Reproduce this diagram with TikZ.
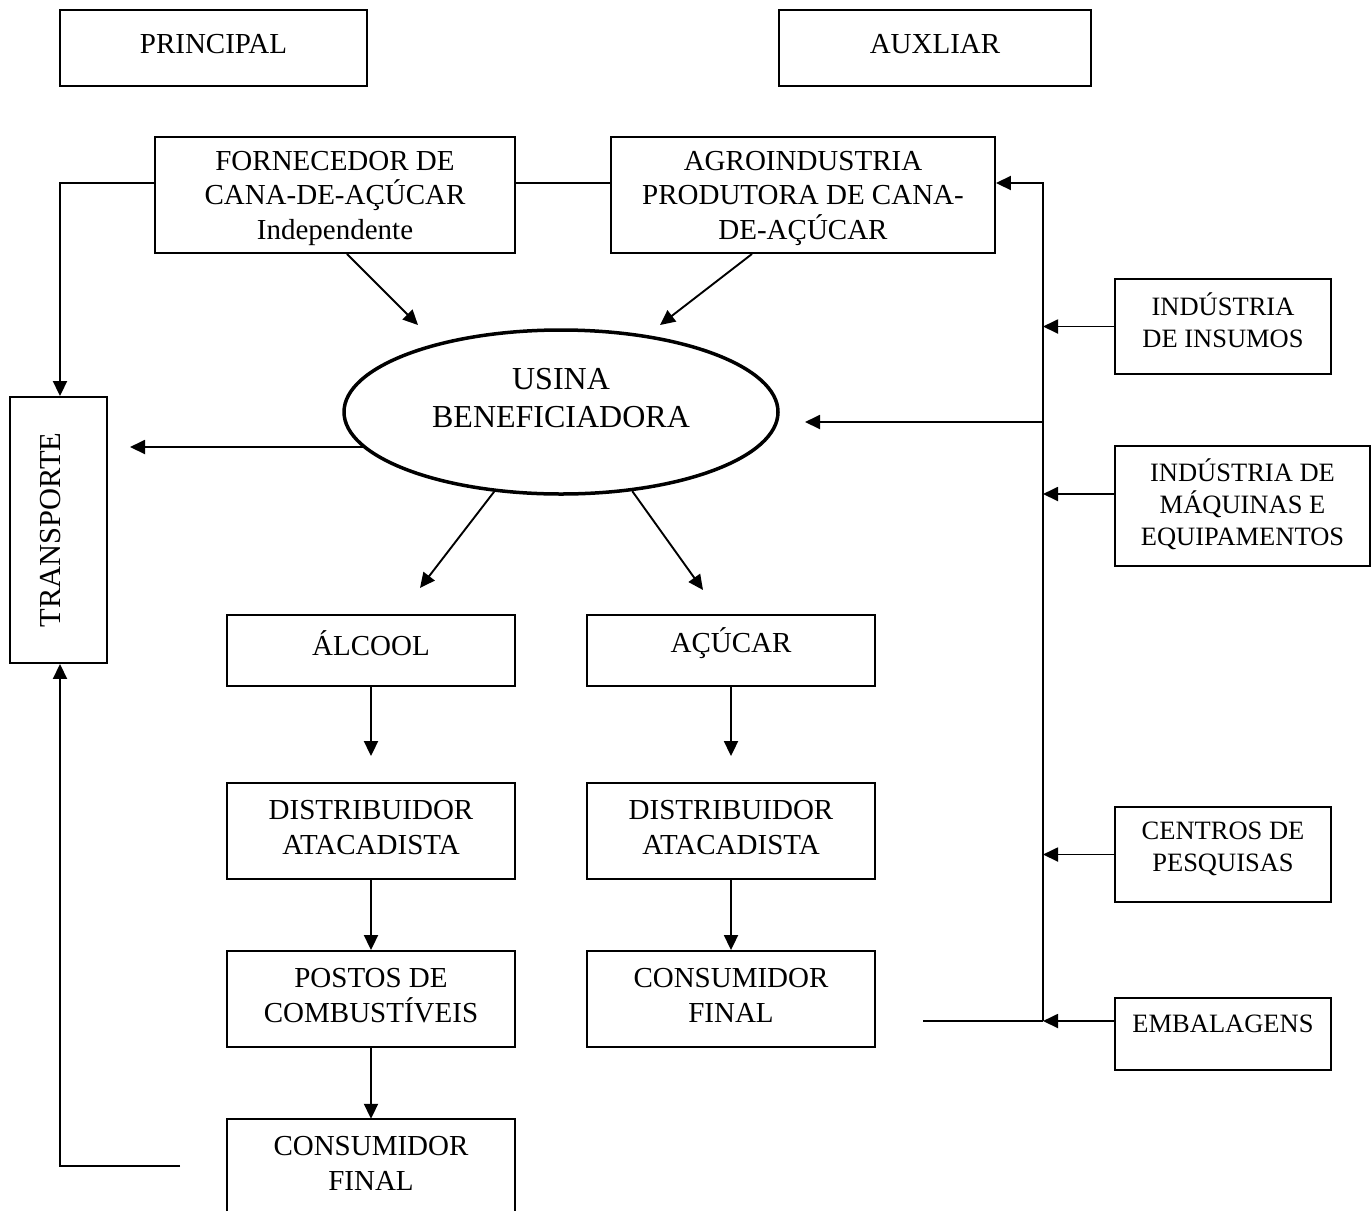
\documentclass[tikz,border=0pt]{standalone}
\usepackage{fontspec}
\setmainfont{Liberation Serif}
\usetikzlibrary{arrows.meta,shapes.geometric}
\begin{document}
\begin{tikzpicture}[x=1pt,y=-1pt,
  every node/.style={font=\fontsize{29}{34.5}\selectfont},
  box/.style={draw, line width=1.9pt, inner sep=0pt},
  txt/.style={align=center, inner sep=0pt},
  rtxt/.style={txt, font=\fontsize{26.5}{32}\selectfont},
  arr/.style={line width=1.9pt, -{Triangle[length=15pt,width=14pt]}},
  ln/.style={line width=1.9pt}]
\useasboundingbox (0,0) rectangle (1372,1211);

% header boxes
\node[box, minimum width=307pt, minimum height=76pt,
  label={[txt,yshift=4pt]center:PRINCIPAL}] (princ) at (213.5,48) {};
\node[box, minimum width=312pt, minimum height=76pt,
  label={[txt,yshift=4pt]center:AUXLIAR}] (aux) at (935,48) {};

% suppliers
\node[box, minimum width=360pt, minimum height=116pt,
  label={[txt,yshift=-3pt]center:{FORNECEDOR DE\\CANA-DE-AÇÚCAR\\Independente}}] (forn) at (335,195) {};
\node[box, minimum width=384pt, minimum height=116pt,
  label={[txt,yshift=-3pt]center:{AGROINDUSTRIA\\PRODUTORA DE CANA-\\DE-AÇÚCAR}}] (agro) at (803,195) {};

% transport
\node[box, minimum width=97pt, minimum height=266pt,
  label={[txt,font=\fontsize{30.5}{36}\selectfont,xshift=-8pt,rotate=90]center:TRANSPORTE}] (trans) at (58.5,530) {};

% usina
\node[draw, ellipse, line width=3.5pt, inner sep=0pt, minimum width=434pt, minimum height=164pt,
  label={[txt,font=\fontsize{32}{38}\selectfont,yshift=14pt]center:{USINA\\BENEFICIADORA}}] (usina) at (561,412) {};

% products
\node[box, minimum width=288pt, minimum height=71pt,
  label={[txt,yshift=7pt]center:ÁLCOOL}] (alc) at (371,650.5) {};
\node[box, minimum width=288pt, minimum height=71pt,
  label={[txt,yshift=7pt]center:AÇÚCAR}] (acu) at (731,650.5) {};
\node[box, minimum width=288pt, minimum height=96pt,
  label={[txt,yshift=3.5pt]center:{DISTRIBUIDOR\\ATACADISTA}}] (dist1) at (371,831) {};
\node[box, minimum width=288pt, minimum height=96pt,
  label={[txt,yshift=3.5pt]center:{DISTRIBUIDOR\\ATACADISTA}}] (dist2) at (731,831) {};
\node[box, minimum width=288pt, minimum height=96pt,
  label={[txt,yshift=3.5pt]center:{POSTOS DE\\COMBUSTÍVEIS}}] (postos) at (371,999) {};
\node[box, minimum width=288pt, minimum height=96pt,
  label={[txt,yshift=3.5pt]center:{CONSUMIDOR\\FINAL}}] (cons2) at (731,999) {};
\node[inner sep=0pt, minimum width=288pt, minimum height=92pt,
  label={[txt,yshift=1.5pt]center:{CONSUMIDOR\\FINAL}}] (cons1) at (371,1165) {};
\draw[ln] (cons1.south west) |- (cons1.north east) -- (cons1.south east);

% auxiliary boxes
\node[box, minimum width=216pt, minimum height=95pt,
  label={[rtxt,yshift=6pt]center:{INDÚSTRIA\\DE INSUMOS}}] (ins) at (1223,326.5) {};
\node[box, minimum width=255pt, minimum height=120pt,
  label={[rtxt,yshift=2pt]center:{INDÚSTRIA DE\\MÁQUINAS E\\EQUIPAMENTOS}}] (maq) at (1242.5,506) {};
\node[box, minimum width=216pt, minimum height=95pt,
  label={[rtxt,yshift=6pt]center:{CENTROS DE\\PESQUISAS}}] (cen) at (1223,854.5) {};
\node[box, minimum width=216pt, minimum height=72pt,
  label={[rtxt,yshift=10pt]center:EMBALAGENS}] (emb) at (1223,1034) {};

% coordinates
\coordinate (tl) at (60,183);
\coordinate (bt) at (1043,183);
\coordinate (bb) at (1043,1021);
\coordinate (emL) at (923,1021);
\coordinate (mq) at (1043,494);
\coordinate (ue) at (1043,422);
\coordinate (uet) at (805,422);
\coordinate (ul) at (365,447);
\coordinate (tarr) at (130,447);
\coordinate (a1) at (418,325);
\coordinate (a2) at (660,325);
\coordinate (b1) at (420,588);
\coordinate (b2) at (703,590);
\coordinate (bl) at (180,1166);
\coordinate (blc) at (60,1166);

% left connectors
\draw[arr] (forn.west |- tl) -- (tl) -- (tl |- trans.north);
\draw[ln] (forn.east |- tl) -- (agro.west |- tl);
\draw[arr] (bl) -- (blc) -- (blc |- trans.south);
\draw[arr] (ul) -- (tarr);

% into usina
\draw[arr] ([xshift=12pt]forn.south) -- (a1);
\draw[arr] ([xshift=-51pt]agro.south) -- (a2);
\draw[arr] (ue) -- (uet);

% out of usina
\draw[arr] (usina.230) -- (b1);
\draw[arr] (usina.312) -- (b2);

% chains
\draw[arr] (alc.south) -- ([yshift=26pt]dist1.north);
\draw[arr] (dist1.south) -- (postos.north);
\draw[arr] (postos.south) -- (cons1.north);
\draw[arr] (acu.south) -- ([yshift=26pt]dist2.north);
\draw[arr] (dist2.south) -- (cons2.north);

% right bus
\draw[arr] (bb) -- (bt) -- (agro.east |- bt);
\draw[ln] (emL) -- (bb);
\draw[arr] (ins.west) -- (ins.west -| bt);
\draw[arr] (maq.west |- mq) -- (mq);
\draw[arr] (cen.west) -- (cen.west -| bt);
\draw[arr] (emb.west |- bb) -- (bb);
\end{tikzpicture}
\end{document}
